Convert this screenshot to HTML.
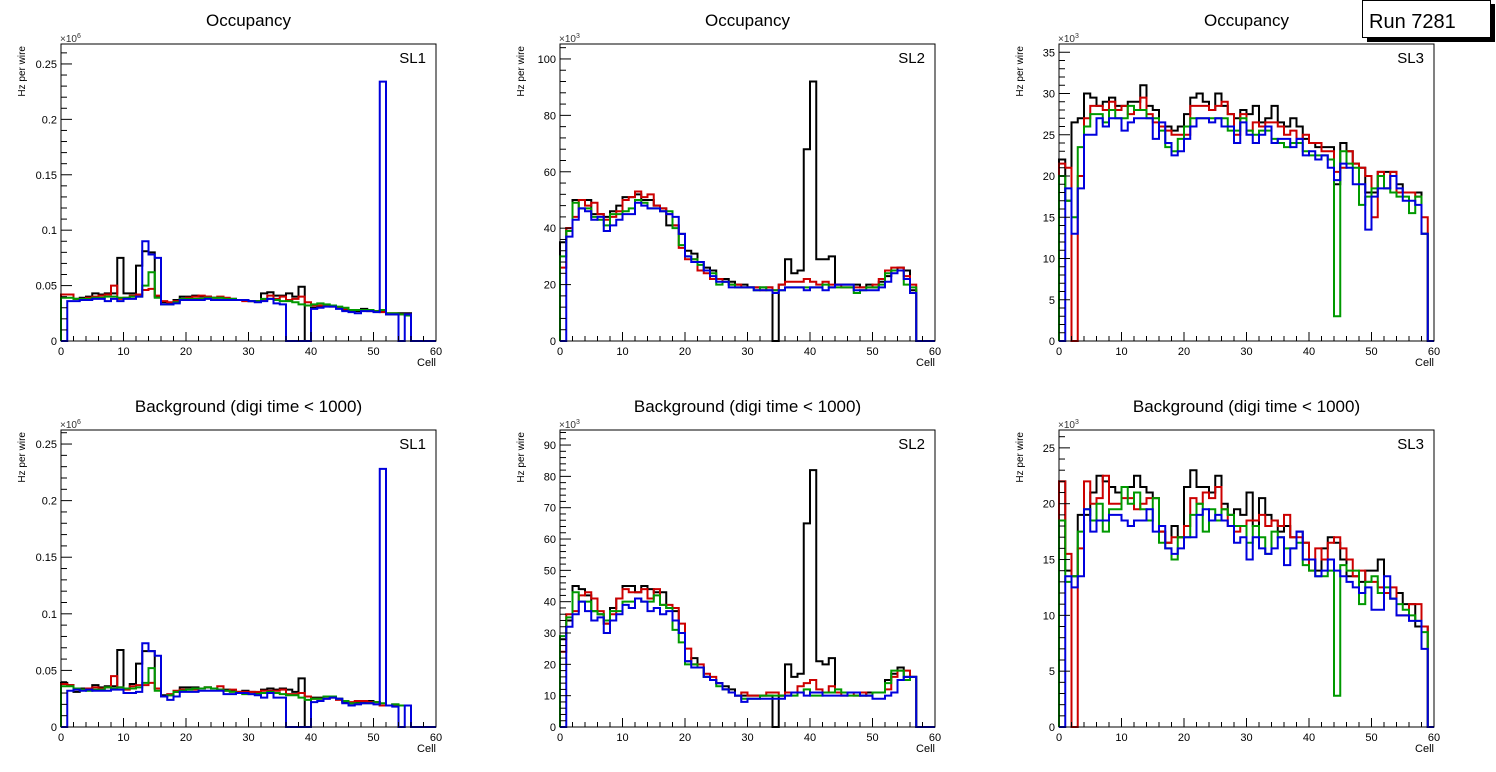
<!DOCTYPE html>
<html><head><meta charset="utf-8">
<style>
body{margin:0;background:#fff;width:1496px;height:772px;overflow:hidden;font-family:"Liberation Sans",sans-serif;}
svg{display:block}
</style></head>
<body>
<svg id="c" width="1496" height="772"></svg>
<script>
const cells = Array.from({length:60},(_, i)=>i);
const xTicks = [0,10,20,30,40,50,60];
// Top SL1 occupancy (kHz)
const occSL1Black=[42,42,38,39,40,43,42,43,43,75,43,43,68,81,80,40,35,34,37,40,40,41,40,40,39,39,38,38,37,37,36,36,43,44,41,41,43,40,49,0,30,31,32,32,30,28,27,27,29,28,27,27,24,24,25,25,0,0,0,0];
const occSL1Red=[42,42,38,38,39,40,41,42,50,38,39,41,42,46,47,41,36,35,36,38,39,40,41,40,39,40,39,38,37,36,36,36,37,41,38,40,37,38,40,35,32,32,32,31,30,29,28,28,28,27,27,26,25,25,24,24,0,0,0,0];
const occSL1Green=[39,39,38,38,38,39,39,40,40,39,39,40,40,50,62,39,33,33,35,38,38,38,38,39,39,39,38,38,37,37,36,36,38,38,37,36,36,35,33,32,33,34,33,32,31,30,28,28,28,28,27,28,25,25,24,23,0,0,0,0];
const occSL1Blue=[0,36,36,37,37,38,38,36,38,36,38,38,40,90,78,75,33,33,34,37,37,37,37,38,37,37,37,37,37,37,36,35,36,38,34,33,0,0,0,0,29,30,31,31,29,27,26,25,27,27,26,234,24,24,0,24,0,0,0,0];
// Top SL2 occupancy (kHz)
const occSL2Black=[35,40,50,50,50,45,45,44,46,48,51,51,52,50,50,48,47,41,41,38,32,31,28,26,25,22,22,21,20,20,19,19,19,19,0,20,29,24,25,68,92,29,29,30,20,20,20,20,19,20,19,21,23,25,26,25,18,0,0,0];
const occSL2Red=[26,40,44,50,48,49,45,43,44,46,50,51,53,51,52,48,47,45,41,33,29,29,25,24,22,22,21,20,20,19,19,19,18,19,18,20,21,21,21,22,21,20,21,20,20,19,19,19,19,19,20,22,25,26,26,23,20,0,0,0];
const occSL2Green=[30,39,49,47,47,44,43,41,45,45,46,47,50,49,47,47,46,46,40,34,30,29,27,25,24,20,21,20,19,19,19,18,19,18,18,18,19,19,19,19,19,19,20,19,19,19,19,17,18,19,19,20,24,25,25,20,19,0,0,0];
const occSL2Blue=[0,37,43,47,46,43,44,39,41,43,45,45,49,48,47,47,46,45,44,38,30,28,28,25,23,21,21,19,19,19,19,18,18,18,17,18,19,19,19,18,19,19,18,19,20,20,20,18,18,18,18,19,21,24,25,22,17,0,0,0];
// Top SL3 occupancy (kHz)
const occSL3Black=[22,17,26.5,27,30,29.5,28.5,29,29.5,28.5,28.5,29,29,31,28.5,28,26,26,25.5,26,27.5,29.5,30,29,28,30,28.5,27.5,27,28,27.5,28.5,26.5,27,28.5,26.5,26,27,26,24.5,24,23.5,23.5,23.5,19,24,23,21.5,21,18,18,20.5,20.5,20.5,19,18,18,18,13,0];
const occSL3Red=[21.5,21,0,20,27,28.5,28.5,28,29,28,28.5,27.5,28,29.5,27.5,26.5,26,25.5,25,25,25,28.5,28.5,28.5,28,28.5,29,27.5,25,27.5,25.5,26.5,26,26.5,26.5,26,25,25.5,24.5,25,24,24,23,23,20.5,21,23,21.5,21,20,15,20.5,18.5,20.5,18,18,18,17.5,15,0];
const occSL3Green=[20,17,15,23.5,26,27.5,27.5,26.5,28,27,27,28.5,28,28,27,27,25.5,23.5,23,24.5,26,27,27,27,27,27,27,25.5,25.5,27,25.5,25,25.5,25.5,24.5,24,23.5,24,24,23,22.5,22.5,22.5,22,3,23,21.5,21,16.5,17.5,18.5,20,18.5,18,17.5,17.5,15.5,17.5,13,0];
const occSL3Blue=[0,18.5,13,18.5,25,25,27,26,27,27,25.5,26.5,27,27,27,24.5,26.5,24,22.5,23,24.5,26,27,27,26.5,27,26,26,24,26.5,25,24,25,26,24,24.5,24.5,23.5,24.5,22.5,23,22,22.5,21,19.5,21.5,21,19,19,13.5,17.5,18.5,18.5,20,18.5,17,17,16.5,13,0];
// Bottom SL1 background (kHz)
const bkgSL1Black=[39,37,31,34,33,37,35,36,36,68,34,38,56,67,67,34,28,28,31,35,35,35,34,35,34,33,33,32,31,32,31,30,33,34,33,34,33,31,43,0,26,26,27,27,25,22,21,22,22,23,22,19,19,20,19,19,0,0,0,0];
const bkgSL1Red=[38,37,33,33,34,35,34,35,45,35,33,36,37,37,39,34,27,29,32,33,33,33,34,35,34,36,32,33,31,31,31,31,32,32,32,33,29,29,30,27,25,25,25,26,24,23,22,23,23,22,22,19,19,19,19,19,0,0,0,0];
const bkgSL1Green=[36,36,34,33,32,33,33,35,34,35,34,34,35,39,52,32,27,28,31,32,33,34,34,35,34,33,32,31,30,29,29,29,30,31,30,29,28,28,26,24,25,25,27,27,25,23,21,21,21,21,22,21,19,20,19,19,0,0,0,0];
const bkgSL1Blue=[0,32,33,32,33,32,32,32,33,33,30,30,31,74,67,63,27,24,27,31,31,31,32,32,32,32,29,29,30,30,29,28,26,30,26,26,0,0,0,0,22,23,25,26,25,21,19,20,21,21,20,228,19,18,0,19,0,0,0,0];
// Bottom SL2 background (kHz)
const bkgSL2Black=[28,34,45,44,42,37,36,33,38,41,45,45,43,45,44,43,43,38,37,30,21,22,19,16,15,14,13,12,10,10,10,10,10,10,0,10,20,16,17,65,82,21,20,22,11,11,11,11,10,11,11,11,15,17,19,16,16,0,0,0];
const bkgSL2Red=[24,36,37,42,43,41,37,33,36,41,44,43,43,44,41,44,39,39,38,33,25,20,20,17,16,14,12,11,10,11,10,10,10,11,11,10,11,11,13,14,15,12,11,13,11,10,11,10,11,10,11,11,12,16,18,18,16,0,0,0];
const bkgSL2Green=[29,35,43,40,40,37,36,34,37,37,40,40,41,40,40,42,39,38,31,27,20,20,19,16,15,13,12,11,10,9,9,9,10,10,10,10,10,10,11,12,10,10,11,11,12,11,10,10,10,10,11,11,14,18,18,15,16,0,0,0];
const bkgSL2Blue=[0,32,36,40,37,34,35,30,34,36,39,38,41,40,37,38,36,37,34,30,21,19,19,16,15,14,12,11,10,8,9,9,9,9,9,9,10,11,11,10,11,11,10,10,10,10,11,11,10,10,9,9,10,11,15,16,16,0,0,0];
// Bottom SL3 background (kHz)
const bkgSL3Black=[22,14,13.5,19,19,21,22.5,22,21.5,21,21.5,21.5,22.5,21.5,21,20.5,17.5,16.5,18,17,21.5,23,21.5,21.5,21,22.5,20,19,19.5,19,21,18,20.5,19,18.5,17.5,18,17,17.5,16.5,15,14,16,17,16.5,15,13.5,13.5,13,14,14,15,12,11.5,12,11,11,9,9,0];
const bkgSL3Red=[22,15.5,0,16,22,20,20.5,22.5,20,20,20.5,20.5,19.5,20,20.5,20.5,17.5,16.5,17,17,18,20.5,20,21,20.5,21.5,19.5,18,17.5,18,18.5,18.5,19,18,18.5,18,19,17,17,16.5,14,16,15,16.5,17,16,15,13.5,14,13,13,12.5,12,12.5,10,10,11,11,9,0];
const bkgSL3Green=[18.5,13,13.5,17.5,19.5,18.5,20,17.5,19.5,19.5,21.5,20,21,19.5,18.5,20.5,16.5,16,15,17,17,19,20,17.5,19.5,18.5,19.5,19,18,18,16.5,18,17,15.5,17.5,17,16,16,16.5,14.5,14,13.5,13.5,14,2.8,14.5,14,14,11,13,13.5,12,12.5,11.5,11,10.5,10,9.5,8.5,0];
const bkgSL3Blue=[0,13.5,12.5,13.5,19.5,17.5,18.5,18.5,19,19,18.5,18,18.5,18.5,19.5,17.5,18,16,15.5,16,17,17,19,19.5,18.5,19,18.5,18,16.5,17,15,17,16,15.5,16,17,14.5,16,17.5,15,15,13.5,14,15,14,13.5,13,12.5,12,12.5,10.5,10.5,13.5,11.5,10,10,9.5,9.5,7,0];
const sl1Ticks=[0,50,100,150,200,250];
const sl1TickLabels=["0","0.05","0.1","0.15","0.2","0.25"];
const occSL2Ticks=[0,20,40,60,80,100];
const bkgSL2Ticks=[0,10,20,30,40,50,60,70,80,90];
const occSL3Ticks=[0,5,10,15,20,25,30,35];
const bkgSL3Ticks=[0,5,10,15,20,25];

const NS="http://www.w3.org/2000/svg";
const svg=document.getElementById('c');
function el(tag,attrs,parent){const e=document.createElementNS(NS,tag);for(const k in attrs)e.setAttribute(k,attrs[k]);(parent||svg).appendChild(e);return e;}
function txt(s,attrs,parent){const e=el('text',attrs,parent);e.textContent=s;return e;}

const colors=["#000000","#cc0000","#009900","#0000dd"];
const seriesNames=["black","red","green","blue"];
const panels=[
 {id:"occ-sl1",x0:61,x1:436,y0:44,y1:341,max:268,ticks:sl1Ticks,labels:sl1TickLabels,minor:10,exp:"6",title:"Occupancy",sl:"SL1",series:[occSL1Black,occSL1Red,occSL1Green,occSL1Blue]},
 {id:"occ-sl2",x0:560,x1:935,y0:44,y1:341,max:105.3,ticks:occSL2Ticks,labels:occSL2Ticks.map(String),minor:4,exp:"3",title:"Occupancy",sl:"SL2",series:[occSL2Black,occSL2Red,occSL2Green,occSL2Blue]},
 {id:"occ-sl3",x0:1059,x1:1434,y0:44,y1:341,max:36,ticks:occSL3Ticks,labels:occSL3Ticks.map(String),minor:1,exp:"3",title:"Occupancy",sl:"SL3",series:[occSL3Black,occSL3Red,occSL3Green,occSL3Blue]},
 {id:"bkg-sl1",x0:61,x1:436,y0:430,y1:727,max:262.4,ticks:sl1Ticks,labels:sl1TickLabels,minor:10,exp:"6",title:"Background (digi time < 1000)",sl:"SL1",series:[bkgSL1Black,bkgSL1Red,bkgSL1Green,bkgSL1Blue]},
 {id:"bkg-sl2",x0:560,x1:935,y0:430,y1:727,max:94.8,ticks:bkgSL2Ticks,labels:bkgSL2Ticks.map(String),minor:2,exp:"3",title:"Background (digi time < 1000)",sl:"SL2",series:[bkgSL2Black,bkgSL2Red,bkgSL2Green,bkgSL2Blue]},
 {id:"bkg-sl3",x0:1059,x1:1434,y0:430,y1:727,max:26.6,ticks:bkgSL3Ticks,labels:bkgSL3Ticks.map(String),minor:1,exp:"3",title:"Background (digi time < 1000)",sl:"SL3",series:[bkgSL3Black,bkgSL3Red,bkgSL3Green,bkgSL3Blue]},
];

panels.forEach(p=>{
  const g=el('g',{});
  
  
  const xs=v=>p.x0+(v/60)*(p.x1-p.x0);
  const ys=v=>p.y1-(Math.min(v,p.max)/p.max)*(p.y1-p.y0);
  const cx=(p.x0+p.x1)/2;
  const t=txt(p.title,{x:cx,y:p.y0-18,'text-anchor':'middle','font-size':17,fill:'#000'},g);
  
  
  p.series.forEach((arr,si)=>{
    let d='M'+xs(0)+','+ys(0);
    for(let i=0;i<60;i++){const v=arr[i]||0;d+=' L'+xs(i)+','+ys(v)+' L'+xs(i+1)+','+ys(v);}
    d+=' L'+xs(60)+','+ys(0);
    const path=el('path',{d:d,fill:'none',stroke:colors[si],'stroke-width':2,'stroke-linejoin':'miter'},g);
    
    
  });
  const fr=el('rect',{x:p.x0,y:p.y0,width:p.x1-p.x0,height:p.y1-p.y0,fill:'none',stroke:'#000','stroke-width':1},g);
  
  
  for(let v=0;v<=60;v+=2){
    const major=v%10===0;
    el('line',{x1:xs(v),x2:xs(v),y1:p.y1,y2:p.y1-(major?9:5),stroke:'#000','stroke-width':1},g);
  }
  xTicks.forEach(v=>{
    const l=txt(String(v),{x:xs(v),y:p.y1+14,'text-anchor':'middle','font-size':11},g);
    
    
  });
  const xl=txt('Cell',{x:p.x1,y:p.y1+25,'text-anchor':'end','font-size':11},g);
  
  
  const step=p.ticks[1]-p.ticks[0];
  for(let v=0;v<=p.max+1e-9;v+=p.minor){
    const major=Math.abs(v/step-Math.round(v/step))<1e-6;
    el('line',{x1:p.x0,x2:p.x0+(major?11:6),y1:ys(v),y2:ys(v),stroke:'#000','stroke-width':1},g);
  }
  p.ticks.forEach((v,i)=>{
    const l=txt(p.labels[i],{x:p.x0-4,y:ys(v)+4,'text-anchor':'end','font-size':11},g);
    
    
  });
  const ex=txt('\u00d710',{x:p.x0-1,y:p.y0-2,'font-size':10,fill:'#333'},g);
  const sup=el('tspan',{dy:-4,'font-size':7},ex);sup.textContent=p.exp;
  
  
  const yl=txt('Hz per wire',{x:0,y:0,'text-anchor':'end','font-size':10,transform:'translate('+(p.x0-36)+','+(p.y0+2)+') rotate(-90)'},g);
  
  
  const sl=txt(p.sl,{x:p.x1-10,y:p.y0+19,'text-anchor':'end','font-size':15},g);
  
  
});
const rs=el('rect',{x:1367,y:4,width:128,height:38,fill:'#000'});


const rb=el('rect',{x:1362.5,y:0.5,width:128,height:37,fill:'#fff',stroke:'#000','stroke-width':1});


const rt=txt('Run 7281',{x:1369,y:28,'font-size':20});


</script>
</body></html>
